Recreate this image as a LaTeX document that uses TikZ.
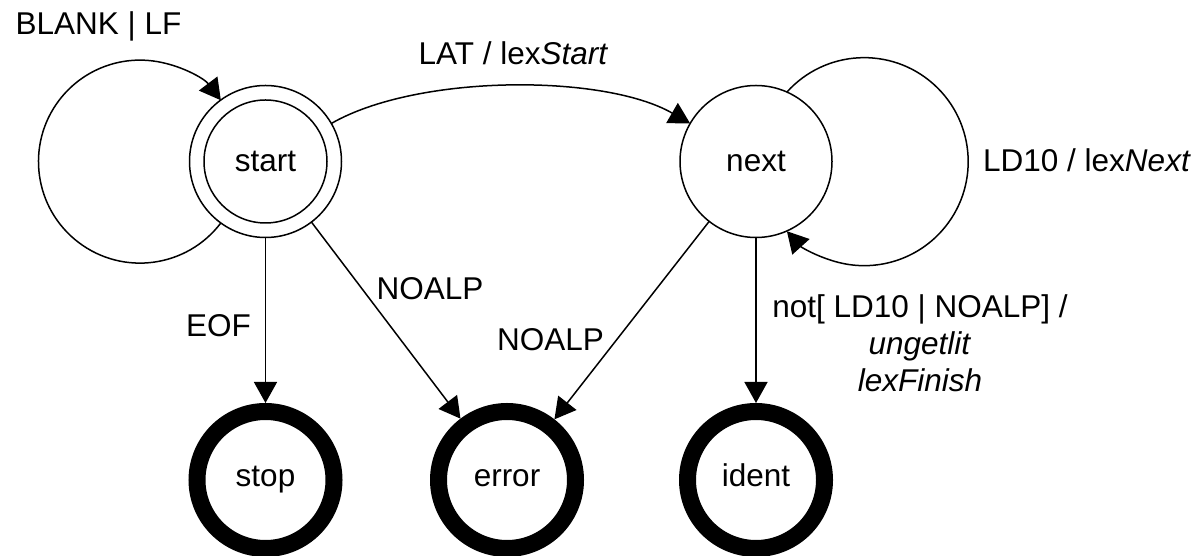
\documentclass[tikz,border=0pt]{standalone}
\usepackage{fontspec}
\setmainfont{Liberation Sans}
\usetikzlibrary{arrows.meta}
\begin{document}
\begin{tikzpicture}[x=1pt, y=1pt,
  every node/.style={font=\fontsize{31.5}{37}\selectfont},
  statenode/.style={circle, draw, line width=1.5pt, minimum size=152pt, inner sep=0pt, outer sep=0pt},
  endnode/.style={circle, draw, line width=17pt, minimum size=137pt, inner sep=0pt,
    text height=20pt, text depth=6.6pt},
  trans/.style={line width=1.5pt, -{Triangle[length=21pt, width=23pt]}},
  lbl/.style={anchor=base, inner sep=0pt}]
\useasboundingbox (0,0) rectangle (1199,556);

% states
\node[statenode] (start) at (265.5,394.5) {start};
\draw[line width=1.5pt] (start.center) circle[radius=61.5];
\node[statenode] (next) at (756,394.5) {next};
\node[endnode] (stop) at (265.5,76) {stop};
\node[endnode] (error) at (507,76) {error};
\node[endnode] (ident) at (756,76) {ident};

% self loops
\draw[trans] (start.234) arc[start angle=-37.2, end angle=-322.8, radius=101.5];
\draw[trans] (next.66) arc[start angle=138, end angle=-138, radius=104];

% transitions
\draw[trans] (start) to[out=30, in=150, looseness=0.71] (next);
\draw[trans] (start) -- (stop);
\draw[trans] (start) -- (error);
\draw[trans] (next) -- (error);
\draw[trans] (next) -- (ident);

% labels
\node[lbl] (lblank) at (98.5,521.7) {BLANK | LF};
\node[lbl] (llat) at (513.5,491) {LAT / lex\textit{Start}};
\node[lbl] (lld) at (1087,384.3) {LD10 / lex\textit{Next}};
\node[lbl] (leof) at (218.5,219.3) {EOF};
\node[lbl] (lno1) at (430,256.7) {NOALP};
\node[lbl] (lno2) at (550.5,205) {NOALP};
\node[inner sep=0pt, align=center] (lnot) at (920,213) {not[ LD10 | NOALP] /\\\textit{ungetlit}\\\textit{lexFinish}};
\end{tikzpicture}
\end{document}
